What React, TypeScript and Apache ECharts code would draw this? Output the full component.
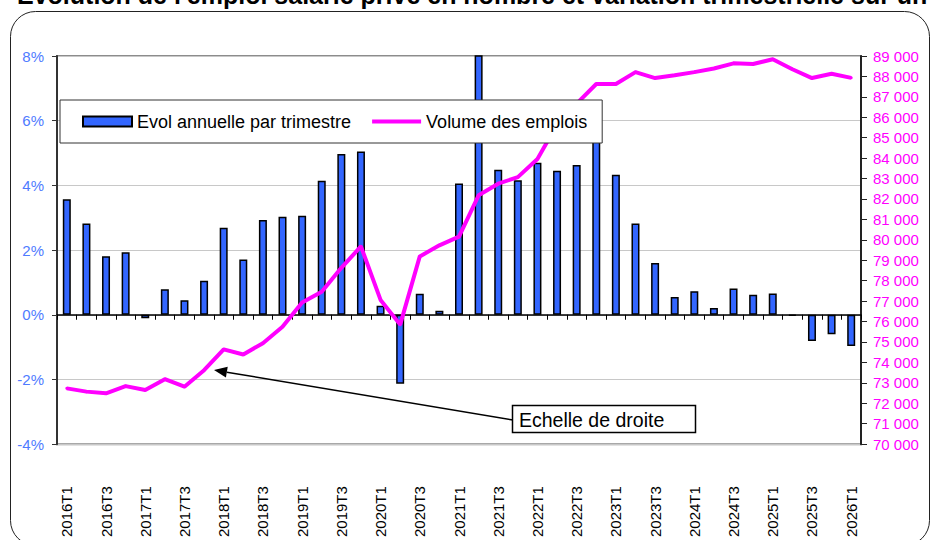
import React, { useEffect, useRef } from "react";
import * as echarts from "echarts";

const categories = [
  "2016T1", "2016T2", "2016T3", "2016T4",
  "2017T1", "2017T2", "2017T3", "2017T4",
  "2018T1", "2018T2", "2018T3", "2018T4",
  "2019T1", "2019T2", "2019T3", "2019T4",
  "2020T1", "2020T2", "2020T3", "2020T4",
  "2021T1", "2021T2", "2021T3", "2021T4",
  "2022T1", "2022T2", "2022T3", "2022T4",
  "2023T1", "2023T2", "2023T3", "2023T4",
  "2024T1", "2024T2", "2024T3", "2024T4",
  "2025T1", "2025T2", "2025T3", "2025T4",
  "2026T1",
];

// Evolution annuelle par trimestre (%), axe de gauche
const evolAnnuelle = [
  3.57, 2.82, 1.81, 1.93,
  -0.11, 0.79, 0.45, 1.05,
  2.69, 1.71, 2.93, 3.03,
  3.06, 4.14, 4.97, 5.05,
  0.28, -2.13, 0.65, 0.12,
  4.06, 9.0, 4.48, 4.16,
  4.7, 4.45, 4.63, 5.7,
  4.33, 2.82, 1.6, 0.55,
  0.73, 0.21, 0.81, 0.62,
  0.66, -0.03, -0.81, -0.6,
  -0.97,
];

// Volume des emplois, axe de droite
const volumeEmplois = [
  72730, 72570, 72490, 72840,
  72650, 73180, 72810, 73620,
  74640, 74390, 74940, 75750,
  76930, 77460, 78630, 79680,
  77060, 75850, 79190, 79730,
  80160, 82180, 82750, 83070,
  83960, 85650, 86670, 87630,
  87630, 88210, 87920, 88060,
  88210, 88390, 88640, 88610,
  88840, 88350, 87920, 88130,
  87930,
];

const leftAxis = { min: -4, max: 8, interval: 2 };
const rightAxis = { min: 70000, max: 89000, interval: 1000 };

const titleText =
  "Évolution de l'emploi salarié privé en nombre et variation trimestrielle sur un an";
const annotationText = "Echelle de droite";
const seriesNames = ["Evol annuelle par trimestre", "Volume des emplois"];

const FONT = "'Liberation Sans', Arial, sans-serif";

export default function App() {
  const ref = useRef<HTMLDivElement>(null);

  useEffect(() => {
    if (!ref.current) return;
    const chart = echarts.init(ref.current, null, { renderer: "svg" });

    const tip: [number, number] = [214, 370];
    const tail: [number, number] = [513, 420];
    const dx = tail[0] - tip[0];
    const dy = tail[1] - tip[1];
    const len = Math.sqrt(dx * dx + dy * dy);
    const ux = dx / len;
    const uy = dy / len;
    const headLen = 13;
    const headHalf = 5.5;
    const bx = tip[0] + ux * headLen;
    const by = tip[1] + uy * headLen;
    const p1: [number, number] = [bx - uy * headHalf, by + ux * headHalf];
    const p2: [number, number] = [bx + uy * headHalf, by - ux * headHalf];

    const option: any = {
      animation: false,
      backgroundColor: "#ffffff",
      textStyle: { fontFamily: FONT },
      grid: {
        left: 57,
        right: 71,
        top: 56,
        bottom: 92,
        show: true,
        backgroundColor: "#ffffff",
        borderColor: "#8c8c8c",
        borderWidth: 2,
      },
      legend: {
        left: 60,
        top: 100,
        orient: "horizontal",
        data: [
          { name: seriesNames[0], icon: "rect" },
          { name: seriesNames[1], icon: "path://M0,0 H50 V4 H0 Z" },
        ],
        itemWidth: 49,
        itemHeight: 10,
        itemGap: 21,
        padding: [12, 15, 12, 22],
        backgroundColor: "#ffffff",
        borderColor: "#333333",
        borderWidth: 1,
        borderRadius: 0,
        z: 10,
        textStyle: {
          fontSize: 18,
          lineHeight: 19,
          color: "#000000",
          fontFamily: FONT,
        },
      },
      xAxis: [
        {
          type: "category",
          data: categories,
          position: "bottom",
          boundaryGap: true,
          axisLine: { show: false, onZero: false },
          axisTick: { show: false },
          splitLine: { show: false },
          axisLabel: {
            interval: 1,
            rotate: 90,
            margin: 42,
            fontSize: 15,
            color: "#000000",
            fontFamily: FONT,
          },
        },
        {
          type: "category",
          data: categories,
          position: "bottom",
          boundaryGap: true,
          axisLine: {
            show: true,
            onZero: true,
            onZeroAxisIndex: 0,
            lineStyle: { color: "#000000", width: 1.5 },
          },
          axisTick: {
            show: true,
            length: 5,
            inside: false,
            alignWithLabel: false,
            interval: 0,
            lineStyle: { color: "#000000", width: 1 },
          },
          axisLabel: { show: false },
          splitLine: { show: false },
        },
      ],
      yAxis: [
        {
          type: "value",
          position: "left",
          min: leftAxis.min,
          max: leftAxis.max,
          interval: leftAxis.interval,
          axisLine: { show: true, lineStyle: { color: "#333333", width: 2 } },
          axisTick: { show: true, length: 5, lineStyle: { color: "#333333", width: 1 } },
          splitLine: { show: true, lineStyle: { color: "#c8c8c8", width: 1 } },
          axisLabel: {
            formatter: (v: number) => `${v}%`,
            color: "#4f7bff",
            fontSize: 15,
            margin: 13,
            fontFamily: FONT,
          },
        },
        {
          type: "value",
          position: "right",
          min: rightAxis.min,
          max: rightAxis.max,
          interval: rightAxis.interval,
          axisLine: { show: true, lineStyle: { color: "#222222", width: 2 } },
          axisTick: { show: true, length: 6, lineStyle: { color: "#222222", width: 1 } },
          splitLine: { show: false },
          axisLabel: {
            formatter: (v: number) => `${Math.round(v / 1000)} 000`,
            color: "#ff00ff",
            fontSize: 15,
            margin: 12,
            fontFamily: FONT,
          },
        },
      ],
      series: [
        {
          name: seriesNames[0],
          type: "bar",
          xAxisIndex: 0,
          yAxisIndex: 0,
          data: evolAnnuelle,
          barWidth: 8,
          clip: true,
          itemStyle: {
            color: "#3366ff",
            borderColor: "#000000",
            borderWidth: 1.5,
          },
        },
        {
          name: seriesNames[1],
          type: "line",
          xAxisIndex: 0,
          yAxisIndex: 1,
          data: volumeEmplois,
          symbol: "circle",
          symbolSize: 3,
          showSymbol: true,
          lineStyle: { color: "#ff00ff", width: 4 },
          itemStyle: { color: "#ff00ff" },
          z: 3,
        },
      ],
      graphic: [
        {
          type: "rect",
          silent: true,
          z: -1,
          shape: { x: 10.5, y: 11.5, width: 919, height: 534, r: 25 },
          style: { fill: "none", stroke: "#222222", lineWidth: 1 },
        },
        {
          type: "text",
          silent: true,
          x: 17,
          y: -18,
          style: {
            text: titleText,
            fontSize: 25,
            fontWeight: "bold",
            fontFamily: FONT,
            fill: "#000000",
            verticalAlign: "top",
          },
        },
        {
          type: "line",
          silent: true,
          z: 20,
          shape: { x1: tail[0], y1: tail[1], x2: bx, y2: by },
          style: { stroke: "#000000", lineWidth: 1.5 },
        },
        {
          type: "polygon",
          silent: true,
          z: 20,
          shape: { points: [tip, p1, p2] },
          style: { fill: "#000000" },
        },
        {
          type: "rect",
          silent: true,
          z: 20,
          shape: { x: 512.5, y: 405.5, width: 183, height: 27 },
          style: { fill: "#ffffff", stroke: "#000000", lineWidth: 1.5 },
        },
        {
          type: "text",
          silent: true,
          z: 21,
          x: 519,
          y: 419.5,
          style: {
            text: annotationText,
            fontSize: 19.5,
            fontFamily: FONT,
            fill: "#000000",
            verticalAlign: "middle",
          },
        },
      ],
    };

    chart.setOption(option);
    return () => {
      chart.dispose();
    };
  }, []);

  return (
    <div
      ref={ref}
      style={{ position: "absolute", left: 0, top: 0, width: 932, height: 540 }}
    />
  );
}
